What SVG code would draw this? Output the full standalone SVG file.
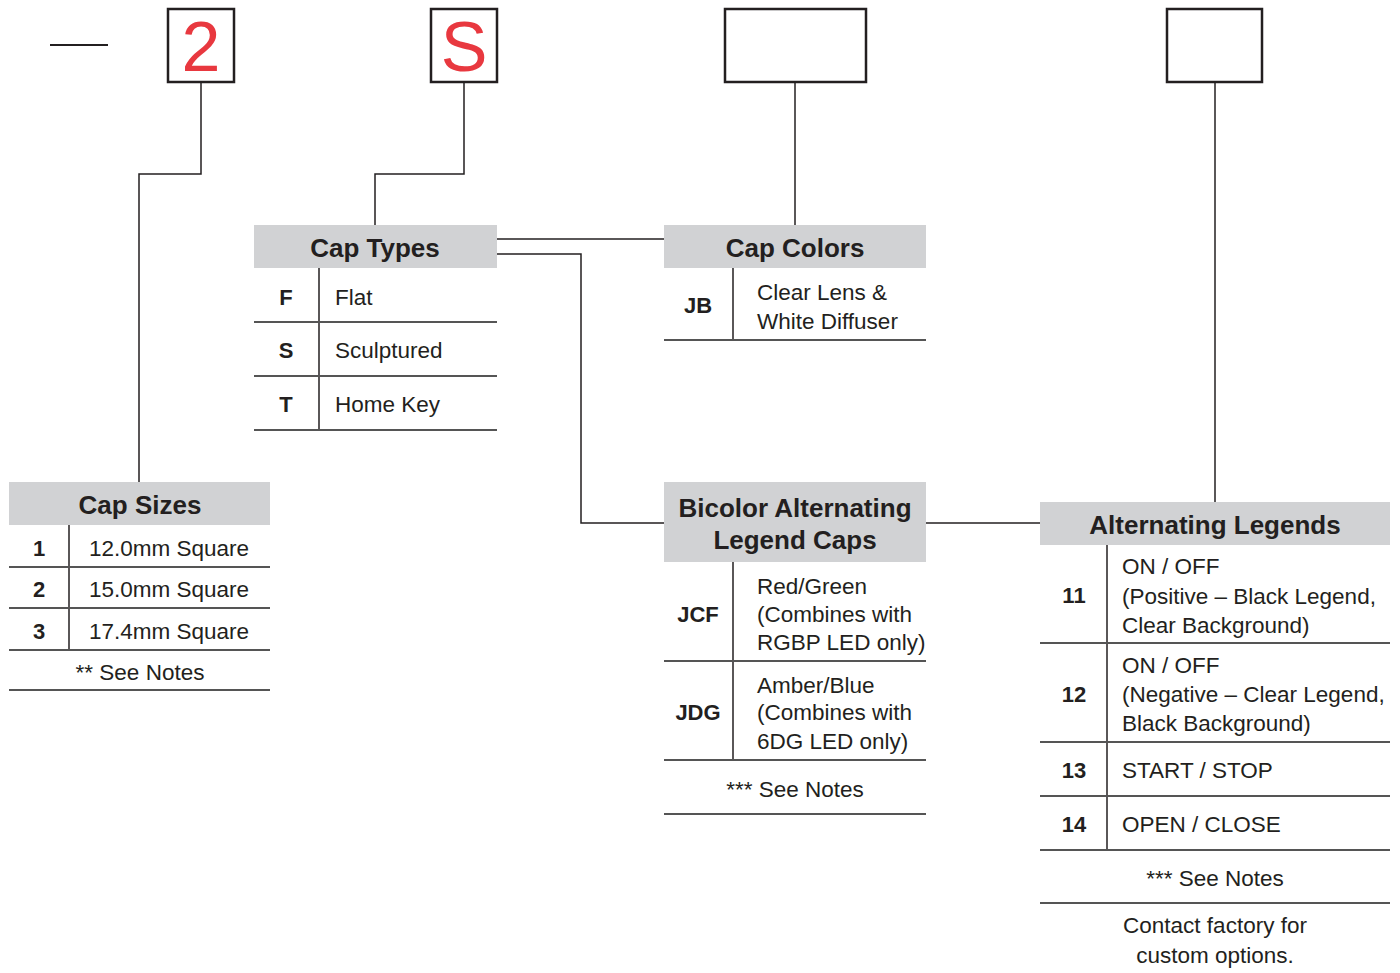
<svg xmlns="http://www.w3.org/2000/svg" width="1400" height="973" viewBox="0 0 1400 973">
<style>
text{font-family:"Liberation Sans",Arial,sans-serif;fill:#231f20}
.h{font-size:26px;font-weight:bold;text-anchor:middle}
.c{font-size:22px;font-weight:bold;text-anchor:middle}
.t{font-size:22.5px}
.m{font-size:22.5px;text-anchor:middle}
.red{font-size:70px;fill:#e8383f;text-anchor:middle}
.hdr{fill:#d1d2d4}
.box{fill:#fff;stroke:#231f20;stroke-width:2.5}
.row{stroke:#555;stroke-width:2;fill:none}
.div{stroke:#231f20;stroke-width:1.5;fill:none}
.con{stroke:#231f20;stroke-width:1.5;fill:none}
</style>
<rect width="1400" height="973" fill="#fff"/>
<g id="connectors">
<line x1="50" y1="45" x2="108" y2="45" stroke="#231f20" stroke-width="2"/>
<polyline class="con" points="201,82 201,174 139,174 139,482"/>
<polyline class="con" points="464,82 464,174 375,174 375,225"/>
<line class="con" x1="795" y1="82" x2="795" y2="225"/>
<line class="con" x1="1215" y1="82" x2="1215" y2="502"/>
<line class="con" x1="497" y1="239" x2="664" y2="239"/>
<polyline class="con" points="497,254 581,254 581,523 664,523"/>
<line class="con" x1="926" y1="523" x2="1040" y2="523"/>
</g>
<g id="box-size">
<rect class="box" x="168" y="9" width="66" height="73"/>
<text class="red" x="201" y="71">2</text>
</g>
<g id="box-type">
<rect class="box" x="431" y="9" width="66" height="73"/>
<text class="red" x="464" y="71">S</text>
</g>
<g id="box-color">
<rect class="box" x="725" y="9" width="141" height="73"/>
</g>
<g id="box-legend">
<rect class="box" x="1167" y="9" width="95" height="73"/>
</g>
<g id="cap-types">
<rect class="hdr" x="254" y="225" width="243" height="43"/>
<text class="h" x="375" y="257">Cap Types</text>
<line class="div" x1="319" y1="268" x2="319" y2="430"/>
<line class="row" x1="254" y1="322" x2="497" y2="322"/>
<line class="row" x1="254" y1="376" x2="497" y2="376"/>
<line class="row" x1="254" y1="430" x2="497" y2="430"/>
<text class="c" x="286" y="305">F</text><text class="t" x="335" y="305">Flat</text>
<text class="c" x="286" y="358">S</text><text class="t" x="335" y="358">Sculptured</text>
<text class="c" x="286" y="412">T</text><text class="t" x="335" y="412">Home Key</text>
</g>
<g id="cap-colors">
<rect class="hdr" x="664" y="225" width="262" height="43"/>
<text class="h" x="795" y="257">Cap Colors</text>
<line class="div" x1="733" y1="268" x2="733" y2="340"/>
<line class="row" x1="664" y1="340" x2="926" y2="340"/>
<text class="c" x="698" y="313">JB</text>
<text class="t" x="757" y="300">Clear Lens &amp;</text>
<text class="t" x="757" y="329">White Diffuser</text>
</g>
<g id="cap-sizes">
<rect class="hdr" x="9" y="482" width="261" height="43"/>
<text class="h" x="140" y="514">Cap Sizes</text>
<line class="div" x1="69" y1="525" x2="69" y2="650"/>
<line class="row" x1="9" y1="567" x2="270" y2="567"/>
<line class="row" x1="9" y1="608" x2="270" y2="608"/>
<line class="row" x1="9" y1="650" x2="270" y2="650"/>
<line class="row" x1="9" y1="690" x2="270" y2="690"/>
<text class="c" x="39" y="556">1</text><text class="t" x="89" y="556">12.0mm Square</text>
<text class="c" x="39" y="597">2</text><text class="t" x="89" y="597">15.0mm Square</text>
<text class="c" x="39" y="639">3</text><text class="t" x="89" y="639">17.4mm Square</text>
<text class="m" x="140" y="680">** See Notes</text>
</g>
<g id="bicolor">
<rect class="hdr" x="664" y="482" width="262" height="80"/>
<text class="h" x="795" y="517">Bicolor Alternating</text>
<text class="h" x="795" y="549">Legend Caps</text>
<line class="div" x1="733" y1="562" x2="733" y2="760"/>
<line class="row" x1="664" y1="661" x2="926" y2="661"/>
<line class="row" x1="664" y1="760" x2="926" y2="760"/>
<line class="row" x1="664" y1="814" x2="926" y2="814"/>
<text class="c" x="698" y="622">JCF</text>
<text class="t" x="757" y="594">Red/Green</text>
<text class="t" x="757" y="622">(Combines with</text>
<text class="t" x="757" y="650">RGBP LED only)</text>
<text class="c" x="698" y="720">JDG</text>
<text class="t" x="757" y="693">Amber/Blue</text>
<text class="t" x="757" y="720">(Combines with</text>
<text class="t" x="757" y="749">6DG LED only)</text>
<text class="m" x="795" y="797">*** See Notes</text>
</g>
<g id="alt-legends">
<rect class="hdr" x="1040" y="502" width="350" height="43"/>
<text class="h" x="1215" y="534">Alternating Legends</text>
<line class="div" x1="1107" y1="545" x2="1107" y2="850"/>
<line class="row" x1="1040" y1="643" x2="1390" y2="643"/>
<line class="row" x1="1040" y1="742" x2="1390" y2="742"/>
<line class="row" x1="1040" y1="796" x2="1390" y2="796"/>
<line class="row" x1="1040" y1="850" x2="1390" y2="850"/>
<line class="row" x1="1040" y1="903" x2="1390" y2="903"/>
<text class="c" x="1074" y="603">11</text>
<text class="t" x="1122" y="574">ON / OFF</text>
<text class="t" x="1122" y="604">(Positive – Black Legend,</text>
<text class="t" x="1122" y="633">Clear Background)</text>
<text class="c" x="1074" y="702">12</text>
<text class="t" x="1122" y="673">ON / OFF</text>
<text class="t" x="1122" y="702">(Negative – Clear Legend,</text>
<text class="t" x="1122" y="731">Black Background)</text>
<text class="c" x="1074" y="778">13</text>
<text class="t" x="1122" y="778">START / STOP</text>
<text class="c" x="1074" y="832">14</text>
<text class="t" x="1122" y="832">OPEN / CLOSE</text>
<text class="m" x="1215" y="886">*** See Notes</text>
<text class="m" x="1215" y="933">Contact factory for</text>
<text class="m" x="1215" y="963">custom options.</text>
</g>
</svg>
